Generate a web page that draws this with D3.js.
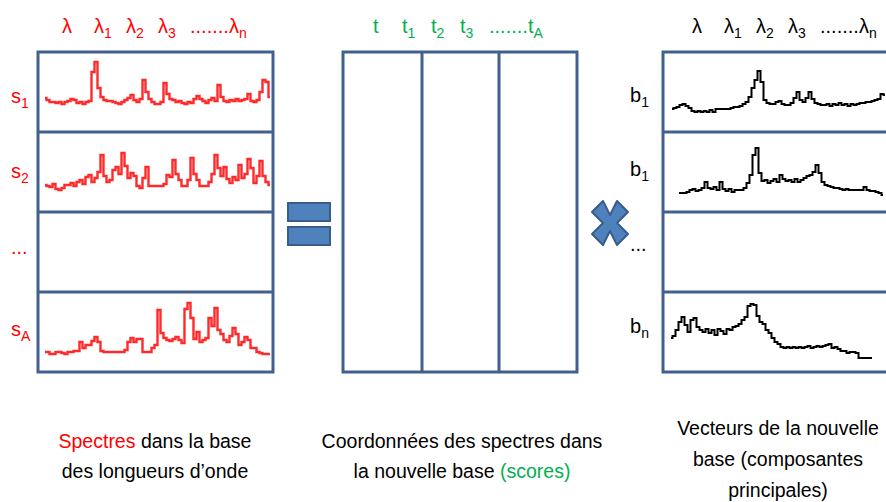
<!DOCTYPE html>
<html><head><meta charset="utf-8">
<script src="https://cdn.jsdelivr.net/npm/d3@7"></script>
<style>html,body{margin:0;padding:0;background:#fff;}svg{display:block;}</style>
</head><body>
<script>
// ---------- data ----------
const leftHeader  = [["λ",""],["λ","1"],["λ","2"],["λ","3"],[".......λ","n"]];
const midHeader   = [["t",""],["t","1"],["t","2"],["t","3"],[".......t","A"]];
const rightHeader = [["λ",""],["λ","1"],["λ","2"],["λ","3"],[".......λ","n"]];
const leftRowLabels  = [["s","1"],["s","2"],["...",""],["s","A"]];
const rightRowLabels = [["b","1"],["b","1"],["...",""],["b","n"]];

const spectrumS1 = [4,2,0,0,-1,0,-2,0,1,3,2,-1,0,-2,0,1,30,40,14,5,2,1,1,0,-1,-2,0,2,4,7,2,0,3,22,10,3,0,-2,-2,0,19,8,3,2,0,1,-1,-2,0,-1,3,6,3,1,-1,2,4,1,17,5,1,0,2,1,3,1,2,3,8,1,0,2,10,22,20,5];
const spectrumS2 = [3,2,1,4,-1,-2,0,3,3,5,2,6,8,4,11,13,6,10,16,33,12,6,8,18,21,14,35,22,10,15,12,2,0,10,21,2,2,2,2,2,4,13,11,28,14,8,2,2,8,30,14,8,2,2,2,6,14,33,20,12,21,9,5,11,8,23,10,14,29,20,5,12,27,12,6,3];
const spectrumSA = [2,2,0,0,2,2,1,0,2,2,3,3,12,6,9,9,13,17,12,3,2,2,2,2,2,2,2,4,12,16,12,15,15,2,2,2,6,9,44,21,16,14,13,15,17,14,11,45,51,36,15,22,12,14,16,36,28,46,24,20,14,12,18,26,20,9,12,17,14,6,6,2,1,0,0,0];
const vectorB1  = [3,4,5,7,8,6,4,1,0,1,0,1,0,2,0,3,3,3,3,3,4,5,5,6,8,10,15,24,32,41,30,12,9,8,8,10,11,8,7,7,9,14,20,12,10,14,20,13,9,8,7,7,8,6,8,7,9,7,8,6,8,7,8,9,9,10,10,11,12,13,18,17];
const vectorB1b = [0,0,0,1,3,4,2,3,5,11,5,4,6,3,11,4,2,4,1,3,3,3,5,10,18,38,45,20,12,13,10,12,14,11,18,14,12,13,11,14,11,13,15,17,18,21,28,20,11,8,7,6,5,5,4,3,4,3,3,3,3,3,6,3,2,2,1,0,-2];
const vectorBn  = [22,24,30,38,43,35,28,40,42,33,30,28,31,27,30,25,31,29,26,31,30,33,34,36,40,43,54,56,55,44,38,36,30,27,22,18,16,13,12,13,12,13,12,13,12,13,14,12,13,14,13,14,15,16,12,13,11,9,9,7,8,8,7,2,2,2,2,2];

// ---------- layout ----------
const W = 886, H = 502;
const BOX = "#41608d", RED = "#ff0000", GREEN = "#00b050";
const rowsY = [52, 132, 212, 292, 372];
const leftBox = {x0: 38, x1: 273};
const midCols = [343, 422, 499, 577];
const rightBox = {x0: 663, x1: 890};
const FONT = "'Liberation Sans', Arial, sans-serif";

const svg = d3.select("body").append("svg").attr("width", W).attr("height", H);

// boxes
function grid(x0, x1) {
  const g = svg.append("g").attr("fill", "none").attr("stroke", BOX).attr("stroke-width", 3);
  g.append("rect").attr("x", x0).attr("y", rowsY[0]).attr("width", x1 - x0).attr("height", rowsY[4] - rowsY[0]);
  g.selectAll("line").data(rowsY.slice(1, 4)).join("line")
    .attr("x1", x0).attr("x2", x1).attr("y1", d => d).attr("y2", d => d);
}
grid(leftBox.x0, leftBox.x1);
grid(rightBox.x0, rightBox.x1);
{
  const g = svg.append("g").attr("fill", "none").attr("stroke", BOX).attr("stroke-width", 3);
  g.append("rect").attr("x", midCols[0]).attr("y", rowsY[0]).attr("width", midCols[3] - midCols[0]).attr("height", rowsY[4] - rowsY[0]);
  g.selectAll("line").data(midCols.slice(1, 3)).join("line")
    .attr("x1", d => d).attr("x2", d => d).attr("y1", rowsY[0]).attr("y2", rowsY[4]);
}

// headers
function header(tokens, xStart, xEnd, color) {
  const xs = d3.scalePoint().domain(d3.range(tokens.length)).range([xStart, xEnd]);
  tokens.forEach((t, i) => {
    const tx = svg.append("text").attr("x", xs(i)).attr("y", 33)
      .attr("font-family", FONT).attr("font-size", 20).attr("fill", color);
    tx.append("tspan").text(t[0]);
    if (t[1]) tx.append("tspan").attr("font-size", 14).attr("dy", 5).text(t[1]);
  });
}
header(leftHeader, 62, 190, RED);
header(midHeader, 373, 489, GREEN);
header(rightHeader, 692, 820, "#000");

// row labels
function rowLabels(labels, x, ys, color) {
  labels.forEach((t, i) => {
    const tx = svg.append("text").attr("x", x).attr("y", ys[i])
      .attr("font-family", FONT).attr("font-size", 20).attr("fill", color);
    tx.append("tspan").text(t[0]);
    if (t[1]) tx.append("tspan").attr("font-size", 14).attr("dy", 5).text(t[1]);
  });
}
rowLabels(leftRowLabels, 11, [103, 178, 254, 336], RED);
rowLabels(rightRowLabels, 630, [102, 176, 251, 333], "#000");

// spectra
function spectrum(values, x0, x1, baseline, color, width) {
  const x = d3.scaleLinear().domain([0, values.length - 1]).range([x0, x1]);
  const y = d3.scaleLinear().domain([0, 60]).range([baseline, baseline - 60]);
  const line = d3.line().x((d, i) => x(i)).y(d => y(d)).curve(d3.curveStep);
  svg.append("path").datum(values).attr("d", line)
    .attr("fill", "none").attr("stroke", color).attr("stroke-width", width)
    .attr("stroke-linejoin", "miter");
}
spectrum(spectrumS1, 45, 270, 102, "#ff2a2a", 2.4);
spectrum(spectrumS2, 45, 270, 188, "#ff2a2a", 2.4);
spectrum(spectrumSA, 45, 270, 354, "#ff2a2a", 2.4);
spectrum(vectorB1, 672, 885, 112, "#000", 2);
spectrum(vectorB1b, 679, 883, 193, "#000", 2);
spectrum(vectorBn, 671, 872, 360, "#000", 2);

// equals sign
const eq = svg.append("g").attr("fill", "#4f81bd").attr("stroke", "#385d8a").attr("stroke-width", 2);
[203, 227].forEach(yy => eq.append("rect").attr("x", 288).attr("y", yy).attr("width", 42).attr("height", 18));

// multiply sign
{
  const cx = 610, cy = 223, a = 18, b = 22, k = 11, c = 8, c2 = 7;
  const pts = [[-a + k, -b], [0, -c], [a - k, -b], [a, -b + k], [c2, 0], [a, b - k], [a - k, b], [0, c],
               [-a + k, b], [-a, b - k], [-c2, 0], [-a, -b + k]];
  svg.append("path").attr("d", d3.line()(pts.map(p => [cx + p[0], cy + p[1]])) + "Z")
    .attr("fill", "#4f81bd").attr("stroke", "#385d8a").attr("stroke-width", 2).attr("stroke-linejoin", "round");
}

// captions
function caption(lines, cx, y0, dy) {
  lines.forEach((parts, i) => {
    const tx = svg.append("text").attr("x", cx).attr("y", y0 + i * dy).attr("text-anchor", "middle")
      .attr("font-family", FONT).attr("font-size", 19.5).attr("fill", "#000");
    parts.forEach(p => tx.append("tspan").attr("fill", p[1] || "#000").text(p[0]));
  });
}
caption([[["Spectres", RED], [" dans la base"]], [["des longueurs d’onde"]]], 155, 448, 30);
caption([[["Coordonnées des spectres dans"]], [["la nouvelle base "], ["(scores)", GREEN]]], 462, 448, 30);
caption([[["Vecteurs de la nouvelle"]], [["base (composantes"]], [["principales)"]]], 778, 435, 31);
</script>
</body></html>
